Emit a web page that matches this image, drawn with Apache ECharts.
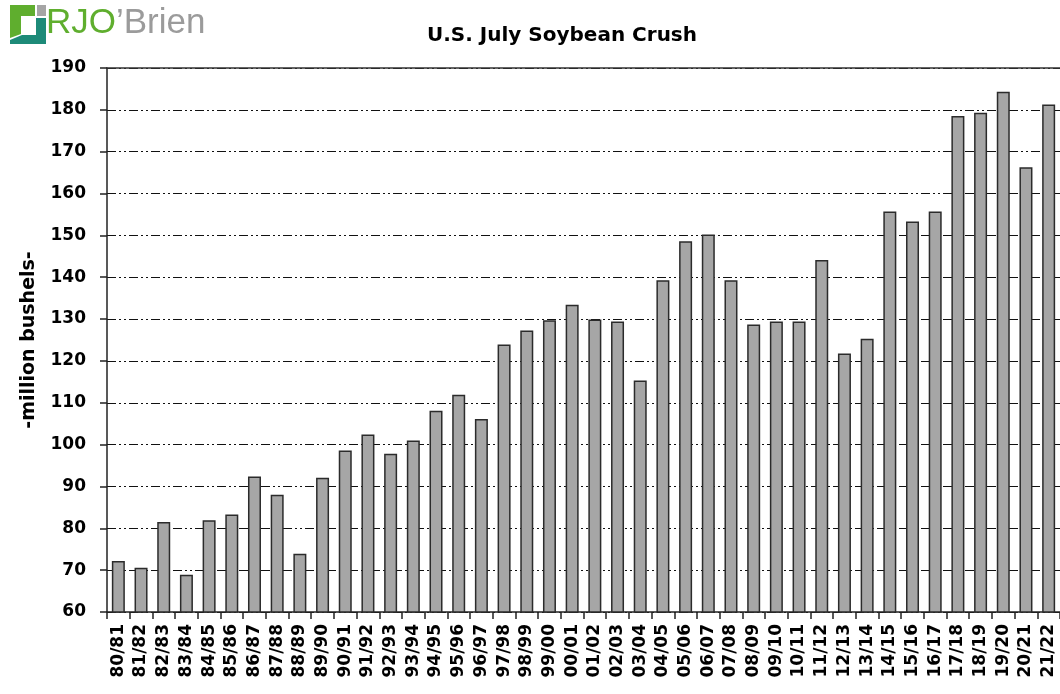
<!DOCTYPE html>
<html>
<head>
<meta charset="utf-8">
<script src="https://cdn.jsdelivr.net/npm/echarts@6/dist/echarts.min.js"></script>
<style>
html,body{margin:0;padding:0;background:#fff;}
#chart{width:1060px;height:694px;}
</style>
</head>
<body>
<div id="chart"></div>
<script>
const categories = ['80/81','81/82','82/83','83/84','84/85','85/86','86/87','87/88','88/89','89/90',
  '90/91','91/92','92/93','93/94','94/95','95/96','96/97','97/98','98/99','99/00',
  '00/01','01/02','02/03','03/04','04/05','05/06','06/07','07/08','08/09','09/10',
  '10/11','11/12','12/13','13/14','14/15','15/16','16/17','17/18','18/19','19/20',
  '20/21','21/22'];
const crush = [72.2,70.6,81.5,68.9,81.9,83.3,92.4,88.0,73.9,92.1,
  98.6,102.4,97.8,101.0,108.1,111.9,106.1,123.9,127.3,129.7,
  133.4,129.9,129.4,115.3,139.3,148.6,150.2,139.3,128.7,129.4,
  129.4,144.1,121.8,125.3,155.7,153.3,155.7,178.5,179.3,184.3,
  166.3,181.3];
const yMin = 60, yMax = 190, yStep = 10;
const titleText = 'U.S. July Soybean Crush';
const yAxisName = '-million bushels-';

const chart = echarts.init(document.getElementById('chart'), null, {renderer:'canvas'});
const font = 'DejaVu Sans';
chart.setOption({
  animation:false,
  backgroundColor:'#ffffff',
  title:{text:titleText,left:557,top:21,textAlign:'center',
    textStyle:{fontFamily:font,fontSize:20,fontWeight:'bold',color:'#000'}},
  grid:{left:107,top:68,right:-7,bottom:82,containLabel:false},
  xAxis:[{
    type:'category',data:categories,position:'bottom',
    axisLine:{show:true,lineStyle:{color:'#222',width:1.5}},
    axisTick:{show:true,length:7,lineStyle:{color:'#222',width:1.5}},
    axisLabel:{rotate:90,margin:12,interval:0,fontFamily:font,fontSize:17,fontWeight:'bold',color:'#000'},
    splitLine:{show:false}
  },{
    type:'category',data:categories,position:'top',
    axisLine:{show:true,lineStyle:{color:'#333',width:1.5}},
    axisTick:{show:false},axisLabel:{show:false},splitLine:{show:false}
  }],
  yAxis:{
    type:'value',min:yMin,max:yMax,interval:yStep,
    name:yAxisName,nameLocation:'middle',nameGap:68,nameRotate:90,
    nameTextStyle:{fontFamily:font,fontSize:19,fontWeight:'bold',color:'#000'},
    axisLine:{show:true,lineStyle:{color:'#222',width:1.5}},
    axisTick:{show:true,length:7,lineStyle:{color:'#222',width:1.5}},
    axisLabel:{margin:21,fontFamily:font,fontSize:17,fontWeight:'bold',color:'#000'},
    splitLine:{show:true,lineStyle:{color:'#111',width:1,type:[9,3,2,3,2,3]}}
  },
  series:[{
    type:'bar',data:crush,barWidth:13,
    itemStyle:{color:'#a6a6a6',borderColor:'#2b2b2b',borderWidth:1.5}
  }],
  graphic:[
    {type:'polygon',shape:{points:[[10,5],[35,5],[35,16],[21,16],[21,34],[10,38]]},style:{fill:'#5fae2e'}},
    {type:'rect',shape:{x:37,y:5,width:9,height:11},style:{fill:'#a5a5a5'}},
    {type:'polygon',shape:{points:[[10,44],[46,44],[46,18],[36,18],[36,35],[22,35],[10,40]]},style:{fill:'#1d8a78'}},
    {type:'text',left:46,top:6,style:{
      text:'{g|RJO}{b|’Brien}',
      rich:{g:{fontFamily:'Liberation Sans',fontSize:35,fill:'#5fae2e',color:'#5fae2e'},
            b:{fontFamily:'Liberation Sans',fontSize:35,fill:'#9b9b9b',color:'#9b9b9b'}}}}
  ]
});
</script>
</body>
</html>
